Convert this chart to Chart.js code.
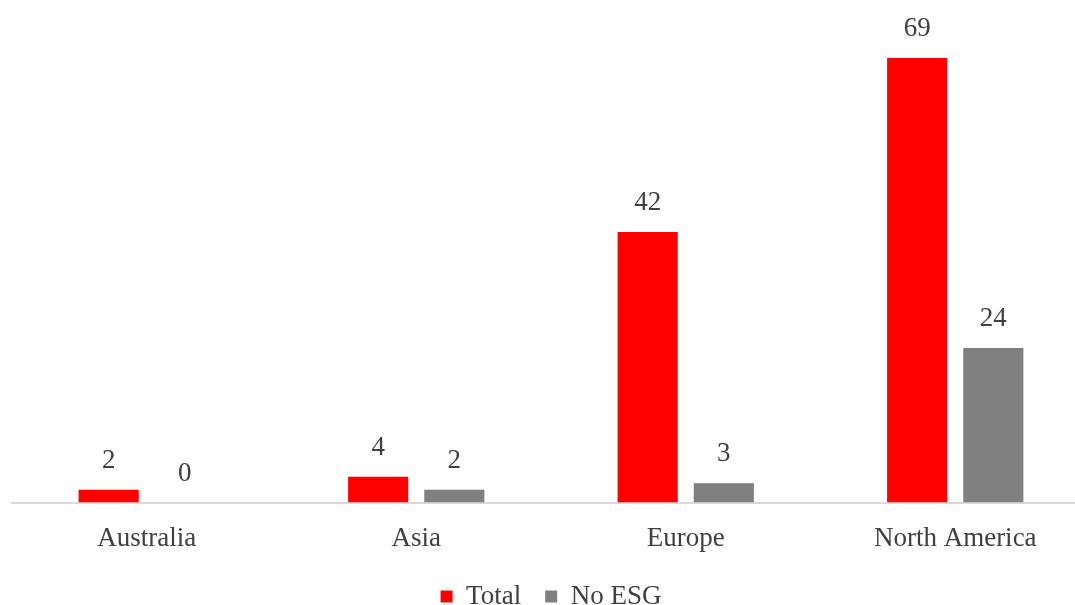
<!DOCTYPE html>
<html>
<head>
<meta charset="utf-8">
<script src="https://cdn.jsdelivr.net/npm/chart.js@4"></script>
<style>
  html, body { margin: 0; padding: 0; background: #fff; overflow: hidden; }
  #wrap { position: relative; width: 1090px; height: 620px; }
</style>
</head>
<body>
<div id="wrap"><canvas id="chart"></canvas></div>
<script>
// --- data ---
const regions = ['Australia', 'Asia', 'Europe', 'North America'];
const totalCounts = [2, 4, 42, 69];
const noEsgCounts = [0, 2, 3, 24];

const textColor = '#404040';
const serif = "'Liberation Serif', 'Times New Roman', serif";

// value labels above each bar
const valueLabels = {
    id: 'valueLabels',
    afterDatasetsDraw(chart) {
        const ctx = chart.ctx;
        ctx.save();
        ctx.font = '27px ' + serif;
        ctx.fillStyle = textColor;
        ctx.textAlign = 'center';
        ctx.textBaseline = 'middle';
        chart.data.datasets.forEach((ds, i) => {
            chart.getDatasetMeta(i).data.forEach((bar, j) => {
                ctx.fillText(ds.data[j], bar.x, bar.y - 29);
            });
        });
        ctx.restore();
    }
};

new Chart(document.getElementById('chart').getContext('2d'), {
    type: 'bar',
    data: {
        labels: regions,
        datasets: [
            { label: 'Total', data: totalCounts, backgroundColor: '#ff0000' },
            { label: 'No ESG', data: noEsgCounts, backgroundColor: '#808080' }
        ]
    },
    options: {
        responsive: true,
        maintainAspectRatio: false,
        animation: false,
        categoryPercentage: 0.565,
        barPercentage: 0.79,
        layout: { padding: { left: 12, right: 0, top: 0, bottom: 0 } },
        scales: {
            x: {
                grid: { display: false },
                border: { display: true, color: '#d9d9d9', width: 2 },
                ticks: { color: textColor, font: { family: serif, size: 27 }, padding: 12 },
                afterFit(scale) { scale.height -= 8; }
            },
            y: { display: false, min: 0, max: 78 }
        },
        plugins: {
            legend: {
                position: 'bottom',
                labels: {
                    color: textColor,
                    font: { family: serif, size: 27 },
                    boxWidth: 12,
                    boxHeight: 12,
                    padding: 24
                }
            },
            tooltip: { enabled: false }
        }
    },
    plugins: [valueLabels]
});
</script>
</body>
</html>
